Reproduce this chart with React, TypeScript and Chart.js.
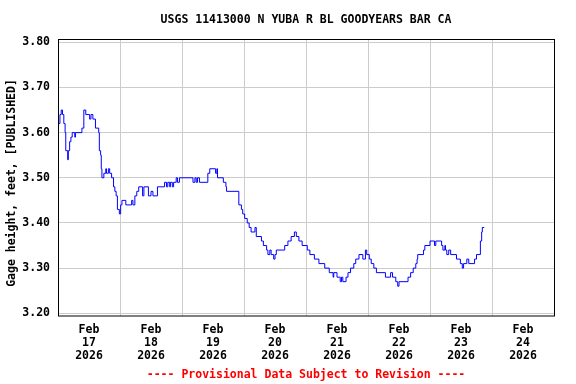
import React, { useEffect, useRef } from "react";
import { Chart, registerables } from "chart.js";

Chart.register(...registerables);

// Hours since Feb 17 2026 00:00 and gage height (ft); each value holds until the next point
const hours = [
  0, 0.75, 1.25, 1.75, 2.25, 2.75, 3, 3.75, 4, 4.5, 5, 5.5, 6.5, 6.75, 9.25, 10, 10.75, 12.25, 12.75, 13.5,
  14.5, 15.75, 16, 16.5, 16.75, 17, 17.75, 18.5, 18.75, 19.5, 20, 20.75, 21.5, 22, 22.5, 23, 23.75, 24.25,
  24.75, 26.25, 28.5, 29, 29.75, 30.5, 31.25, 32.75, 33.25, 35, 36, 36.75, 38.5, 41.25, 42, 42.5, 43.25,
  43.5, 44.25, 44.75, 45.75, 46.25, 47, 52.25, 53, 53.5, 54, 54.75, 58, 58.75, 61, 61.5, 61.75, 64, 65,
  65.25, 70, 71, 71.5, 72.25, 73.25, 74, 74.75, 76.25, 76.75, 78.75, 79.5, 80.75, 81.25, 82, 82.5, 83.5,
  84, 84.5, 87.75, 89, 90.25, 91.5, 92.25, 93.25, 94.5, 96.5, 97.5, 99.25, 101, 103.25, 105, 106.5,
  106.75, 108, 109.25, 109.75, 110.25, 111.5, 112.25, 113.25, 114.5, 115.25, 116.5, 118, 119, 119.5,
  120.5, 121.25, 122.25, 123.25, 126.75, 128.75, 129.5, 130.75, 131.5, 132, 135.5, 136.5, 137.5, 138.5,
  139, 139.25, 141.5, 142, 144, 145.75, 146.25, 148.5, 149, 149.75, 150, 150.5, 151.25, 152, 154.25,
  155.75, 156.5, 157, 158.25, 159, 161.25, 162, 163.5, 164, 164.25, 165,
];
const stage = [
  3.62, 3.64, 3.65, 3.64, 3.62, 3.6, 3.56, 3.54, 3.56, 3.58, 3.59, 3.6, 3.59, 3.6, 3.61, 3.65, 3.64, 3.63, 3.64, 3.63,
  3.61, 3.6, 3.56, 3.55, 3.52, 3.5, 3.51, 3.52, 3.51, 3.52, 3.51, 3.5, 3.48, 3.47, 3.46, 3.43, 3.42, 3.44,
  3.45, 3.44, 3.45, 3.44, 3.46, 3.47, 3.48, 3.46, 3.48, 3.46, 3.47, 3.46, 3.48, 3.49, 3.48, 3.49, 3.48,
  3.49, 3.48, 3.49, 3.5, 3.49, 3.5, 3.49, 3.5, 3.49, 3.5, 3.49, 3.51, 3.52, 3.51, 3.52, 3.5, 3.49, 3.48,
  3.47, 3.44, 3.43, 3.42, 3.41, 3.4, 3.39, 3.38, 3.39, 3.37, 3.36, 3.35, 3.34, 3.33, 3.34, 3.33, 3.32,
  3.33, 3.34, 3.35, 3.36, 3.37, 3.38, 3.37, 3.36, 3.35, 3.34, 3.33, 3.32, 3.31, 3.3, 3.29, 3.28,
  3.29, 3.28, 3.27, 3.28, 3.27, 3.28, 3.29, 3.3, 3.31, 3.32, 3.33, 3.32, 3.34, 3.33,
  3.32, 3.31, 3.3, 3.29, 3.28, 3.29, 3.28, 3.27, 3.26, 3.27, 3.28, 3.29, 3.3, 3.31,
  3.32, 3.33, 3.34, 3.35, 3.36, 3.35, 3.36, 3.35, 3.34, 3.35, 3.34, 3.33, 3.34, 3.33, 3.32,
  3.31, 3.3, 3.31, 3.32, 3.31, 3.32, 3.33, 3.36, 3.38, 3.39, 3.39,
];

const dayNumbers = ["17", "18", "19", "20", "21", "22", "23", "24"];
const yTicks = [3.2, 3.3, 3.4, 3.5, 3.6, 3.7, 3.8];
const titleText = "USGS 11413000 N YUBA R BL GOODYEARS BAR CA";
const yTitle = "Gage height, feet, [PUBLISHED]";
const footerText = "---- Provisional Data Subject to Revision ----";

const FONT = "'DejaVu Sans Mono', monospace";

export default function App() {
  const ref = useRef<HTMLCanvasElement | null>(null);

  useEffect(() => {
    document.body.style.margin = "0";
    const canvas = ref.current;
    if (!canvas) return;

    const decor = {
      id: "decor",
      afterDraw(chart: any) {
        const { ctx, chartArea } = chart;
        const { left, top, right, bottom } = chartArea;
        ctx.save();
        ctx.strokeStyle = "#000";
        ctx.lineWidth = 1;
        ctx.strokeRect(left + 0.5, top + 0.5, right - left, bottom - top - 0.5);
        ctx.fillStyle = "#000";
        ctx.font = `bold 11.5px ${FONT}`;
        ctx.textAlign = "center";
        ctx.textBaseline = "middle";
        ctx.fillText(titleText, (left + right) / 2, 20.5);
        ctx.fillStyle = "#ff0000";
        ctx.fillText(footerText, (left + right) / 2, 375);
        ctx.fillStyle = "#000";
        ctx.translate(12.5, 183);
        ctx.rotate(-Math.PI / 2);
        ctx.fillText(yTitle, 0, 0);
        ctx.restore();
      },
    };

    const chart = new Chart(canvas, {
      type: "line",
      data: {
        datasets: [
          {
            data: hours.map((h, i) => ({ x: h, y: stage[i] })),
            borderColor: "#0000ff",
            borderWidth: 1,
            pointRadius: 0,
            stepped: true,
            fill: false,
          },
        ],
      },
      options: {
        animation: false,
        responsive: false,
        devicePixelRatio: 1,
        layout: { padding: { left: 0, top: 39, right: 22, bottom: 0 } },
        plugins: {
          legend: { display: false },
          tooltip: { enabled: false },
          title: { display: false },
        },
        scales: {
          x: {
            type: "linear",
            min: 0,
            max: 192,
            afterBuildTicks: (scale: any) => {
              const t = [];
              for (let v = 0; v <= 192; v += 12) t.push({ value: v });
              scale.ticks = t;
            },
            afterFit: (scale: any) => {
              scale.height = 68;
            },
            border: { display: false },
            grid: {
              drawTicks: false,
              color: (c: any) => {
                const v = c.tick ? c.tick.value : 0;
                return v % 24 === 0 && v > 0 && v < 192 ? "#cccccc" : "rgba(0,0,0,0)";
              },
              lineWidth: 1,
            },
            ticks: {
              autoSkip: false,
              maxRotation: 0,
              minRotation: 0,
              padding: 8,
              color: "#000",
              font: { family: FONT, size: 11.5, weight: "bold", lineHeight: 1.12 },
              callback: (v: any) => {
                const n = Number(v);
                if (n % 24 !== 12) return "";
                return ["Feb", dayNumbers[Math.floor(n / 24)], "2026"];
              },
            },
          },
          y: {
            type: "linear",
            min: 3.194,
            max: 3.8073,
            afterBuildTicks: (scale: any) => {
              scale.ticks = yTicks.map((v) => ({ value: v }));
            },
            afterFit: (scale: any) => {
              scale.width = 58;
            },
            border: { display: false },
            grid: { drawTicks: false, color: "#cccccc", lineWidth: 1 },
            ticks: {
              padding: 8,
              color: "#000",
              font: { family: FONT, size: 11.5, weight: "bold" },
              callback: (v: any) => Number(v).toFixed(2),
            },
          },
        },
      },
      plugins: [decor],
    });

    return () => chart.destroy();
  }, []);

  return (
    <div style={{ width: 576, height: 384 }}>
      <canvas ref={ref} width={576} height={384} style={{ display: "block" }} />
    </div>
  );
}
